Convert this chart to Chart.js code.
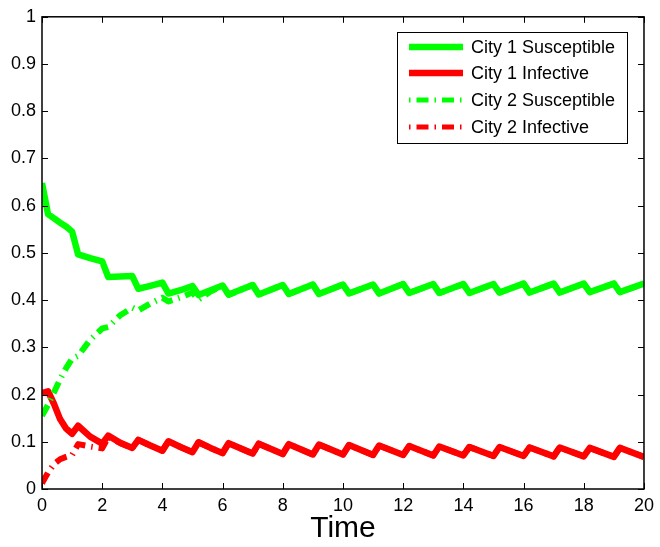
<!DOCTYPE html>
<html>
<head>
<meta charset="utf-8">
<title>Two-city epidemic</title>
<script src="https://cdn.jsdelivr.net/npm/chart.js@4/dist/chart.umd.min.js"></script>
<style>
  html, body { margin: 0; padding: 0; background: #fff; }
  #wrap { width: 660px; height: 547px; }
</style>
</head>
<body>
<div id="wrap"><canvas id="chart" width="660" height="547"></canvas></div>
<script>
// Sample times: a pulse hits at each whole year and settles ~0.2 later
const TIME = [
  0, 0.2, 0.4, 0.6, 0.8, 1, 1.2, 1.6, 2, 2.2, 2.6, 3, 3.2, 3.6, 4, 4.2, 4.6, 5, 5.2, 5.6, 6,
  6.2, 7, 7.2, 8, 8.2, 9, 9.2, 10, 10.2, 11, 11.2, 12, 12.2, 13, 13.2, 14, 14.2,
  15, 15.2, 16, 16.2, 17, 17.2, 18, 18.2, 19, 19.2, 20,
];

const CITY1_S = [
  0.648, 0.582, 0.573, 0.564, 0.556, 0.545, 0.497, 0.489, 0.482, 0.449, 0.450, 0.451, 0.424, 0.430, 0.437, 0.414, 0.421, 0.430, 0.411, 0.421, 0.431,
  0.412, 0.432, 0.412, 0.432, 0.413, 0.433, 0.413, 0.433, 0.414, 0.433, 0.414, 0.434, 0.415, 0.434, 0.415, 0.434, 0.415,
  0.434, 0.416, 0.435, 0.416, 0.435, 0.416, 0.435, 0.417, 0.435, 0.417, 0.435,
];

const CITY1_I = [
  0.203, 0.207, 0.180, 0.148, 0.128, 0.117, 0.134, 0.111, 0.096, 0.113, 0.098, 0.087, 0.104, 0.092, 0.081, 0.101, 0.089, 0.078, 0.099, 0.087, 0.076,
  0.097, 0.075, 0.096, 0.074, 0.095, 0.073, 0.094, 0.073, 0.093, 0.072, 0.092, 0.072, 0.091, 0.071, 0.090, 0.071, 0.089,
  0.070, 0.089, 0.070, 0.088, 0.069, 0.088, 0.069, 0.087, 0.068, 0.087, 0.068,
];

const CITY2_S = [
  0.155, 0.178, 0.205, 0.232, 0.256, 0.276, 0.282, 0.316, 0.340, 0.343, 0.368, 0.384, 0.378, 0.393, 0.405, 0.397, 0.406, 0.416, 0.401, 0.418, 0.430,
  0.411, 0.432, 0.412, 0.432, 0.413, 0.433, 0.413, 0.433, 0.414, 0.433, 0.414, 0.434, 0.415, 0.434, 0.415, 0.434, 0.415,
  0.434, 0.416, 0.435, 0.416, 0.435, 0.416, 0.435, 0.417, 0.435, 0.417, 0.435,
];

const CITY2_I = [
  0.012, 0.035, 0.053, 0.063, 0.068, 0.072, 0.095, 0.090, 0.086, 0.110, 0.097, 0.087, 0.104, 0.092, 0.081, 0.101, 0.089, 0.078, 0.099, 0.087, 0.076,
  0.097, 0.075, 0.096, 0.074, 0.095, 0.073, 0.094, 0.073, 0.093, 0.072, 0.092, 0.072, 0.091, 0.071, 0.090, 0.071, 0.089,
  0.070, 0.089, 0.070, 0.088, 0.069, 0.088, 0.069, 0.087, 0.068, 0.087, 0.068,
];

const X_TICKS = [0, 2, 4, 6, 8, 10, 12, 14, 16, 18, 20];
const Y_TICKS = [0, 0.1, 0.2, 0.3, 0.4, 0.5, 0.6, 0.7, 0.8, 0.9, 1];

const COLOURS = {
  susceptible: '#00ff00',
  infective:   '#ff0000',
  axis:        '#000000',
};
const FONT = "'Liberation Sans', Arial, Helvetica, sans-serif";
const DASH_DOT = [12, 6, 1.5, 6];
const LINE_WIDTH = 6.5;
const TICK_LEN = 6;

const SERIES = [
  { label: 'City 1 Susceptible', values: CITY1_S, colour: COLOURS.susceptible, dashed: false },
  { label: 'City 1 Infective',   values: CITY1_I, colour: COLOURS.infective,   dashed: false },
  { label: 'City 2 Susceptible', values: CITY2_S, colour: COLOURS.susceptible, dashed: true },
  { label: 'City 2 Infective',   values: CITY2_I, colour: COLOURS.infective,   dashed: true },
];

// later series sit on top, so reverse chart.js' draw order
const datasets = SERIES.map((s, i) => ({
  label: s.label,
  data: s.values.map((y, k) => ({ x: TIME[k], y })),
  borderColor: s.colour,
  backgroundColor: s.colour,
  borderWidth: s.dashed ? 6 : LINE_WIDTH,
  borderDash: s.dashed ? DASH_DOT : [],
  borderJoinStyle: 'round',
  borderCapStyle: 'butt',
  pointRadius: 0,
  tension: 0,
  fill: false,
  order: SERIES.length - i,
}));

// Box round the plot with inward ticks on all four sides
const axesBox = {
  id: 'axesBox',
  afterDatasetsDraw(chart) {
    const { ctx, chartArea: a, scales: { x, y } } = chart;
    ctx.save();
    ctx.strokeStyle = COLOURS.axis;
    ctx.lineWidth = 1;
    ctx.beginPath();
    X_TICKS.forEach(v => {
      const px = Math.round(x.getPixelForValue(v)) + 0.5;
      ctx.moveTo(px, a.bottom); ctx.lineTo(px, a.bottom - TICK_LEN);
      ctx.moveTo(px, a.top);    ctx.lineTo(px, a.top + TICK_LEN);
    });
    Y_TICKS.forEach(v => {
      const py = Math.round(y.getPixelForValue(v)) + 0.5;
      ctx.moveTo(a.left, py);  ctx.lineTo(a.left + TICK_LEN, py);
      ctx.moveTo(a.right, py); ctx.lineTo(a.right - TICK_LEN, py);
    });
    ctx.stroke();
    ctx.lineWidth = 1.5;
    ctx.strokeRect(a.left, a.top, a.right - a.left, a.bottom - a.top);
    ctx.restore();
  },
};

// Boxed legend in the top-right corner of the plot
const boxLegend = {
  id: 'boxLegend',
  afterDraw(chart) {
    const { ctx } = chart;
    const box = { x: 397.5, y: 32.5, w: 230, h: 111 };
    const rowY = [47, 73, 100, 127];
    ctx.save();
    ctx.fillStyle = '#fff';
    ctx.fillRect(box.x, box.y, box.w, box.h);
    ctx.strokeStyle = COLOURS.axis;
    ctx.lineWidth = 1;
    ctx.strokeRect(box.x, box.y, box.w, box.h);

    ctx.font = `18px ${FONT}`;
    ctx.textBaseline = 'middle';
    ctx.textAlign = 'left';
    SERIES.forEach((s, i) => {
      const yy = rowY[i];
      ctx.strokeStyle = s.colour;
      ctx.lineCap = 'butt';
      ctx.lineWidth = s.dashed ? 5 : LINE_WIDTH;
      ctx.setLineDash(s.dashed ? DASH_DOT : []);
      ctx.lineDashOffset = s.dashed ? 18 : 0;
      ctx.beginPath();
      ctx.moveTo(409, yy);
      ctx.lineTo(463, yy);
      ctx.stroke();
      ctx.fillStyle = '#000';
      ctx.fillText(s.label, 471, yy + 1);
    });
    ctx.restore();
  },
};

const tickFont = { family: FONT, size: 18 };

new Chart(document.getElementById('chart'), {
  type: 'line',
  data: { datasets },
  options: {
    responsive: false,
    animation: false,
    devicePixelRatio: 1,
    layout: { padding: { left: 0, right: 11, top: 12, bottom: 0 } },
    plugins: {
      legend: { display: false },
      tooltip: { enabled: false },
    },
    scales: {
      x: {
        type: 'linear',
        min: 0,
        max: 20,
        afterBuildTicks(scale) { scale.ticks = X_TICKS.map(value => ({ value })); },
        afterFit(scale) { scale.height = 58; },
        grid: { display: false, drawTicks: false },
        border: { display: false },
        ticks: {
          autoSkip: false,
          maxRotation: 0,
          padding: 6,
          color: '#000',
          font: tickFont,
          callback: v => String(v),
        },
        title: {
          display: true,
          text: 'Time',
          color: '#000',
          font: { family: FONT, size: 30 },
          padding: { top: 0, bottom: 0 },
        },
      },
      y: {
        type: 'linear',
        min: 0,
        max: 1,
        afterBuildTicks(scale) { scale.ticks = Y_TICKS.map(value => ({ value })); },
        afterFit(scale) { scale.width = 42; },
        grid: { display: false, drawTicks: false },
        border: { display: false },
        ticks: {
          autoSkip: false,
          padding: 6,
          color: '#000',
          font: tickFont,
          callback: v => String(+v.toFixed(1)),
        },
      },
    },
  },
  plugins: [axesBox, boxLegend],
});
</script>
</body>
</html>
